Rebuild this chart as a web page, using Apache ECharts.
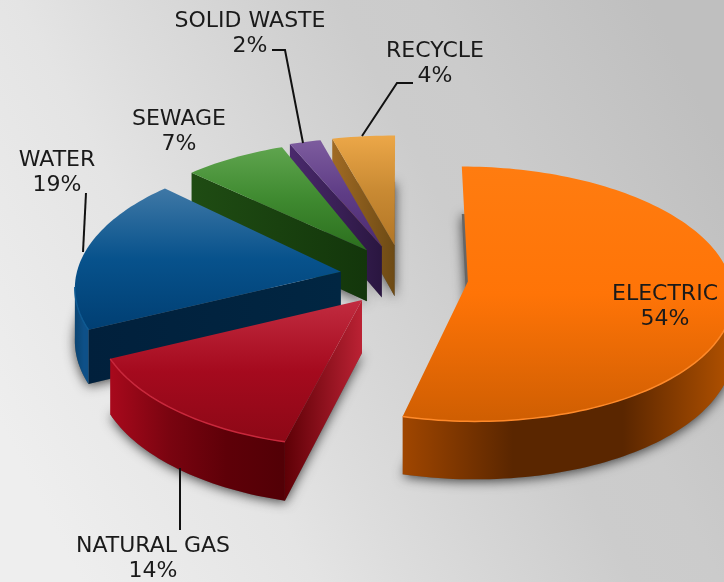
<!DOCTYPE html>
<html><head><meta charset="utf-8">
<style>html,body{margin:0;padding:0;background:#ddd}#c{width:724px;height:582px}</style>
<script src="https://cdn.jsdelivr.net/npm/echarts@6/dist/echarts.min.js"></script>
</head><body><div id="c"></div>
<script>
// ---- data ----
const categories = ['ELECTRIC','NATURAL GAS','WATER','SEWAGE','SOLID WASTE','RECYCLE'];
const shares = [54,14,19,7,2,4];

// ---- styling / layout (not data) ----
const topColors = [
  ['#ff7c10','#ff7407','#cf5e02'],
  ['#c22c40','#a50a1e','#8c0816'],
  ['#3f78a6','#07528c','#013f73'],
  ['#5fa44e','#3f8a30','#2c6f1e'],
  ['#7d5c9e','#5f3d86','#4c2b70'],
  ['#eca748','#c98a33','#b27626']
];
const wallColors = [
  ['#a04600','#5a2600','#5a2600','#b35200'],
  ['#a8091c','#7a0410','#5e0008','#520006'],
  ['#0b4472','#0c4a7c','#0e5088','#0e5088'],
  ['#1c4410','#1c4410','#1c4410','#1c4410'],
  ['#3a1f56','#3a1f56','#3a1f56','#3a1f56'],
  ['#8a5c1e','#8a5c1e','#8a5c1e','#8a5c1e']
];
const faceColors = [
  ['#9c4300','#7a3500'],
  ['#5e0006','#bb2234'],
  ['#01203c','#012642'],
  ['#1f4c13','#13360b'],
  ['#4a2a6c','#2a1640'],
  ['#a06a24','#6d4a14']
];
const rimColors = ['#ff8a2a','#c8283c','#0f5a92','#4d9a3c','#6a4a8e','#d0953c'];
const drawOrder = [5,4,3,2,0,1];
const explode = [60,60,60,60,60,60];
const nudgeX = [8,1,0,0,0,2];
const nudgeY = [5,2,3,0,0,0];
const radiusX = [1,0.99,1.01,1.01,1.08,1.08];
const radiusY = [0.935,0.95,0.98,0.94,0.94,0.945];
const center = [400,275], R = 262, tilt = 0.51, persp = 0.0004, depth = 52;
const labelLayout = [
  {x:665,y:307},{x:153,y:559},{x:57,y:173},{x:179,y:132},{x:250,y:34},{x:435,y:64}
];
const leaders = [
  null,
  [[180,468],[180,530]],
  [[86,193],[83,252]],
  null,
  [[272,50],[285,50],[303,143]],
  [[413,83],[397,83],[362,136]]
];
const font = '"DejaVu Sans"';

function proj(X,Y){
  const s = 1/(1-Y*persp);
  return {x:center[0]+X*s, y:center[1]+Y*tilt*s, s};
}
function grad(x0,y0,x1,y1,cols){
  return new echarts.graphic.LinearGradient(x0,y0,x1,y1,
    cols.map((c,i)=>({offset:i/(cols.length-1),color:c})));
}
const total = shares.reduce((a,b)=>a+b,0);
const starts = []; shares.reduce((acc,v,i)=>{starts[i]=acc;return acc+v;},0);

function renderSlice(params){
  const i = drawOrder[params.dataIndex];
  const a0 = starts[i]/total*2*Math.PI, a1 = (starts[i]+shares[i])/total*2*Math.PI;
  const mid = (a0+a1)/2;
  const ax = explode[i]*Math.sin(mid)+nudgeX[i], ay = -explode[i]*Math.cos(mid)+nudgeY[i];
  const n = Math.max(8,Math.round((a1-a0)*40));
  const arc = [];
  for(let k=0;k<=n;k++){
    const t=a0+(a1-a0)*k/n;
    arc.push(proj(ax+R*radiusX[i]*Math.sin(t), ay-R*radiusY[i]*Math.cos(t)));
  }
  const apex = proj(ax,ay);
  const poly = [apex,...arc];
  const pts = poly.map(p=>[p.x,p.y]);
  const down = p=>[p.x,p.y+depth*p.s];
  const base = poly.map(down);
  const kids = [];
  const z = params.dataIndex*10;
  // soft contact shadow from the base outline
  kids.push({type:'polygon',shape:{points:base},z2:z,
    style:{fill:'#666',shadowBlur:12,shadowOffsetY:2,shadowColor:'rgba(0,0,0,0.7)'}});
  // side A : apex -> start of arc, only when it really faces the viewer
  if(arc[0].x<apex.x-20){
    kids.push({type:'polygon',z2:z+1,shape:{points:[[apex.x,apex.y],[arc[0].x,arc[0].y],down(arc[0]),down(apex)]},
      style:{fill:grad(0,0,1,0,faceColors[i])}});
  }
  // outer wall where the arc runs leftward on screen
  let run=[];
  const runs=[];
  for(let k=0;k<n;k++){
    if(arc[k+1].x<arc[k].x){ if(!run.length)run.push(arc[k]); run.push(arc[k+1]); }
    else if(run.length){runs.push(run);run=[];}
  }
  if(run.length)runs.push(run);
  runs.forEach(r=>{
    const wp = r.map(p=>[p.x,p.y]).concat(r.slice().reverse().map(down));
    kids.push({type:'polygon',z2:z+2,shape:{points:wp},style:{fill:grad(0,0,1,0,wallColors[i])}});
    kids.push({type:'polyline',z2:z+4,shape:{points:r.map(p=>[p.x,p.y])},
      style:{fill:null,stroke:rimColors[i],lineWidth:1.5}});
  });
  // top surface
  kids.push({type:'polygon',z2:z+3,shape:{points:pts},style:{fill:grad(0,0,0,1,topColors[i])}});
  return {type:'group',children:kids};
}

function renderLabel(params){
  const i = params.dataIndex, l = labelLayout[i];
  const kids = [{type:'text',z2:200,style:{
    x:l.x,y:l.y,text:categories[i]+'\n'+shares[i]+'%',
    fill:'#1a1a1a',font:'22px '+font,align:'center',verticalAlign:'middle',lineHeight:25}}];
  if(leaders[i]) kids.push({type:'polyline',z2:190,shape:{points:leaders[i]},
    style:{fill:null,stroke:'#111',lineWidth:2}});
  return {type:'group',children:kids};
}

const chart = echarts.init(document.getElementById('c'),null,{renderer:'canvas'});
chart.setOption({
  animation:false,
  backgroundColor:new echarts.graphic.LinearGradient(0.05,0.85,1,0.25,[
    {offset:0,color:'#eeeeee'},{offset:0.27,color:'#e4e4e4'},{offset:0.37,color:'#dddddd'},{offset:0.64,color:'#cccccc'},{offset:0.74,color:'#cbcbcb'},{offset:1,color:'#bfbfbf'}]),
  series:[
    {type:'custom',coordinateSystem:'none',renderItem:renderSlice,data:drawOrder.map(i=>shares[i]),silent:true,clip:false,z:2},
    {type:'custom',coordinateSystem:'none',renderItem:renderLabel,data:shares,silent:true,clip:false,z:3}
  ]
});
</script></body></html>
